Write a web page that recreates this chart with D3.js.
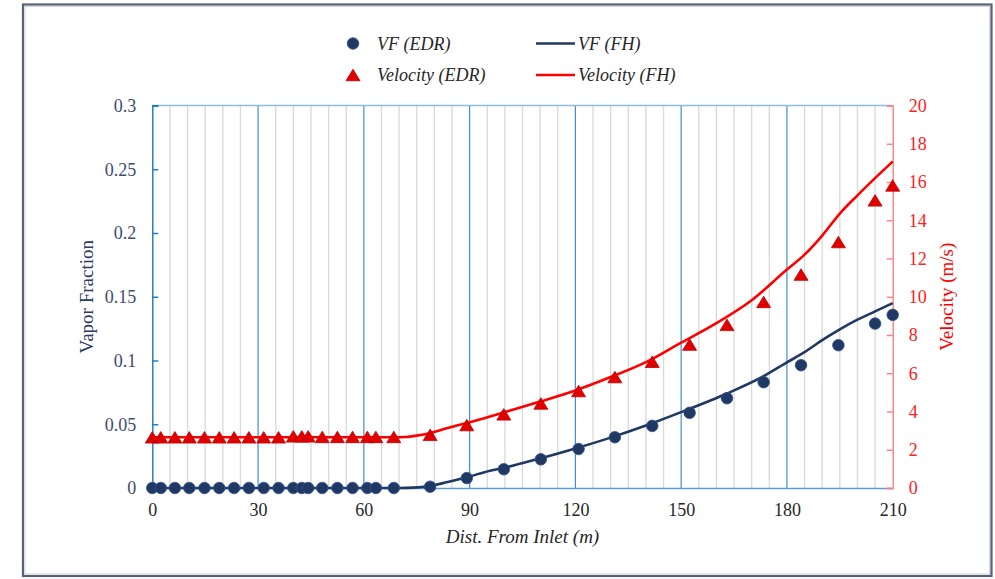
<!DOCTYPE html>
<html>
<head>
<meta charset="utf-8">
<script src="https://cdn.jsdelivr.net/npm/d3@7"></script>
<style>
html,body{margin:0;padding:0;background:#fff;}
svg{display:block;}
</style>
</head>
<body>
<svg id="chart" width="995" height="579"></svg>
<script>
// ---------- DATA ----------
const edrDist = [0, 2.4, 6.4, 10.5, 14.8, 19.0, 23.2, 27.4, 31.6, 35.8, 40.0, 42.4, 44.2, 48.2, 52.5, 56.8, 61.0, 63.4, 68.5,
                 78.8, 89.2, 99.7, 110.2, 120.9, 131.2, 141.8, 152.4, 163.0, 173.4, 184.0, 194.6, 205.0, 210.0];
const vfEDR = [0, 0, 0, 0, 0, 0, 0, 0, 0, 0, 0, 0, 0, 0, 0, 0, 0, 0, 0,
               0.001, 0.0078, 0.0147, 0.0225, 0.0306, 0.0398, 0.0487, 0.059, 0.0704, 0.083, 0.0963, 0.112, 0.129, 0.1358];
const velEDR = [2.65, 2.65, 2.65, 2.65, 2.65, 2.65, 2.65, 2.65, 2.65, 2.65, 2.7, 2.7, 2.7, 2.67, 2.67, 2.67, 2.67, 2.67, 2.67,
                2.78, 3.29, 3.85, 4.42, 5.07, 5.8, 6.6, 7.5, 8.53, 9.73, 11.16, 12.86, 15.04, 15.82];

const vfFHDist = [0, 20, 40, 60, 70, 74, 78.6, 83.5, 89.2, 95.8, 100, 110, 120, 130, 140, 150, 163, 173.4, 180, 185, 190, 195, 200, 205, 210];
const vfFH = [0, 0, 0, 0, 0, 0.0003, 0.0016, 0.0045, 0.0084, 0.0136, 0.016, 0.0232, 0.031, 0.0395, 0.049, 0.0595, 0.0741, 0.0877, 0.0985, 0.1065, 0.116, 0.1245, 0.132, 0.1385, 0.145];

const velFHDist = [0, 20, 40, 60, 68, 72, 75, 78.6, 83.5, 89.2, 95.8, 100, 110, 120, 130, 140, 150, 160, 170, 180, 185, 190, 195, 200, 205, 210];
const velFH = [2.65, 2.65, 2.65, 2.65, 2.65, 2.67, 2.74, 2.86, 3.12, 3.40, 3.74, 3.97, 4.52, 5.1, 5.8, 6.58, 7.6, 8.62, 9.82, 11.42, 12.2, 13.2, 14.35, 15.3, 16.2, 17.07];

const xTicks = [0, 30, 60, 90, 120, 150, 180, 210];
const yLeftTicks = [0, 0.05, 0.1, 0.15, 0.2, 0.25, 0.3];
const yLeftLabels = ["0", "0.05", "0.1", "0.15", "0.2", "0.25", "0.3"];
const yRightTicks = [0, 2, 4, 6, 8, 10, 12, 14, 16, 18, 20];

const legendItems = ["VF (EDR)", "VF (FH)", "Velocity (EDR)", "Velocity (FH)"];
const xTitle = "Dist. From Inlet (m)";
const yLeftTitle = "Vapor Fraction";
const yRightTitle = "Velocity (m/s)";

// ---------- SETUP ----------
const svg = d3.select("#chart");
const L = 152.3, R = 892.7, T = 105.5, B = 488;
const serif = "'Liberation Serif', 'Times New Roman', serif";
const navy = "#203864";
const red = "#ff0000";

const x = d3.scaleLinear().domain([0, 210]).range([L, R]);
const yL = d3.scaleLinear().domain([0, 0.3]).range([B, T]);
const yR = d3.scaleLinear().domain([0, 20]).range([B, T]);

// outer border
svg.append("rect").attr("x", 23).attr("y", 4.5).attr("width", 968.5).attr("height", 571.5)
  .attr("fill", "none").attr("stroke", "#56627a").attr("stroke-width", 2.2);
svg.append("rect").attr("x", 25).attr("y", 6.5).attr("width", 964.5).attr("height", 567.5)
  .attr("fill", "none").attr("stroke", "#d4d4d4").attr("stroke-width", 1);

// minor grid every 5
const minor = d3.range(5, 210, 5).filter(v => v % 30 !== 0);
svg.append("g").selectAll("line").data(minor).join("line")
  .attr("x1", d => x(d)).attr("x2", d => x(d)).attr("y1", T).attr("y2", B)
  .attr("stroke", "#d9d9d9").attr("stroke-width", 1.3);
// major grid
svg.append("g").selectAll("line").data(xTicks.filter(v => v > 0 && v < 210)).join("line")
  .attr("x1", d => x(d)).attr("x2", d => x(d)).attr("y1", T).attr("y2", B)
  .attr("stroke", "#3f8fd2").attr("stroke-width", 1.2);

// top border
svg.append("line").attr("x1", L).attr("x2", R).attr("y1", T).attr("y2", T)
  .attr("stroke", "#8dbbe3").attr("stroke-width", 1.6);

// bottom axis
const gx = svg.append("g").attr("transform", `translate(0,${B})`)
  .call(d3.axisBottom(x).tickValues(xTicks).tickSize(0).tickPadding(15).tickFormat(d3.format("d")));
gx.select(".domain").attr("stroke", "#5b9bd5").attr("stroke-width", 1.4);
gx.selectAll("text").attr("font-family", serif).attr("font-size", 18).attr("fill", "#262626");

// left axis
const gl = svg.append("g").attr("transform", `translate(${L},0)`)
  .call(d3.axisLeft(yL).tickValues(yLeftTicks).tickSize(-6).tickPadding(16)
    .tickFormat((d, i) => yLeftLabels[i]));
gl.select(".domain").attr("stroke", "#1a74c4").attr("stroke-width", 1.4);
gl.selectAll(".tick line").attr("stroke", "#1a74c4").attr("stroke-width", 1.4);
gl.selectAll("text").attr("font-family", serif).attr("font-size", 18).attr("fill", "#3e4c6c");

// right axis
const gr = svg.append("g").attr("transform", `translate(${R},0)`)
  .call(d3.axisRight(yR).tickValues(yRightTicks).tickSize(-6).tickPadding(16).tickFormat(d3.format("d")));
gr.select(".domain").attr("stroke", "#ff8080").attr("stroke-width", 1.4);
gr.selectAll(".tick line").attr("stroke", "#ff8080").attr("stroke-width", 1.4);
gr.selectAll("text").attr("font-family", serif).attr("font-size", 18).attr("fill", "#ff2020");

// axis titles
svg.append("text").attr("x", 522.5).attr("y", 543).attr("text-anchor", "middle")
  .attr("font-family", serif).attr("font-style", "italic").attr("font-size", 19).attr("fill", "#262626")
  .text(xTitle);
svg.append("text").attr("transform", `translate(93,${(T + B) / 2}) rotate(-90)`).attr("text-anchor", "middle")
  .attr("font-family", serif).attr("font-size", 19).attr("fill", "#2a3a62").text(yLeftTitle);
svg.append("text").attr("transform", `translate(953,${(T + B) / 2}) rotate(-90)`).attr("text-anchor", "middle")
  .attr("font-family", serif).attr("font-size", 19).attr("fill", red).text(yRightTitle);

// lines
const lineVF = d3.line().x((d, i) => x(vfFHDist[i])).y(d => yL(d)).curve(d3.curveMonotoneX);
const lineVel = d3.line().x((d, i) => x(velFHDist[i])).y(d => yR(d)).curve(d3.curveMonotoneX);
svg.append("path").attr("d", lineVF(vfFH)).attr("fill", "none").attr("stroke", navy).attr("stroke-width", 2.6);
svg.append("path").attr("d", lineVel(velFH)).attr("fill", "none").attr("stroke", red).attr("stroke-width", 2.6);

// markers
const triPath = (w, h) => `M0,${-h / 2}L${w / 2},${h / 2}L${-w / 2},${h / 2}Z`;
svg.append("g").selectAll("path").data(velEDR).join("path")
  .attr("transform", (d, i) => `translate(${x(edrDist[i])},${yR(d)})`)
  .attr("d", triPath(14, 11.5)).attr("fill", "#e00000").attr("stroke", "#c00000").attr("stroke-width", 0.8);
svg.append("g").selectAll("circle").data(vfEDR).join("circle")
  .attr("cx", (d, i) => x(edrDist[i])).attr("cy", d => yL(d)).attr("r", 5.8)
  .attr("fill", navy).attr("stroke", "#34508a").attr("stroke-width", 0.8);

// legend
const lg = svg.append("g");
lg.append("circle").attr("cx", 353).attr("cy", 43.5).attr("r", 5.8).attr("fill", navy).attr("stroke", "#34508a").attr("stroke-width", 0.8);
lg.append("path").attr("transform", "translate(353,75)").attr("d", triPath(14, 11.5)).attr("fill", "#e00000").attr("stroke", "#c00000").attr("stroke-width", 0.8);
lg.append("line").attr("x1", 536).attr("x2", 575).attr("y1", 43.5).attr("y2", 43.5).attr("stroke", navy).attr("stroke-width", 2.6);
lg.append("line").attr("x1", 536).attr("x2", 575).attr("y1", 75).attr("y2", 75).attr("stroke", red).attr("stroke-width", 2.6);
const legPos = [[377, 50], [578, 50], [377, 81], [578, 81]];
legendItems.forEach((t, i) => {
  lg.append("text").attr("x", legPos[i][0]).attr("y", legPos[i][1])
    .attr("font-family", serif).attr("font-style", "italic").attr("font-size", 18).attr("fill", "#262626").text(t);
});
</script>
</body>
</html>
